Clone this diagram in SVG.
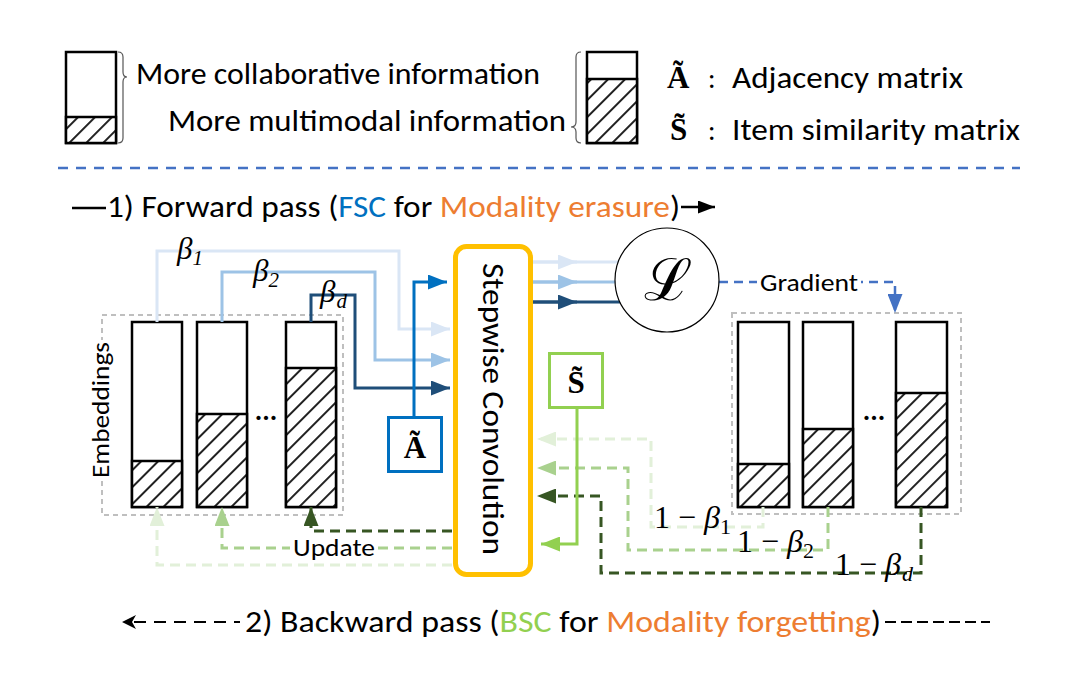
<svg xmlns="http://www.w3.org/2000/svg" width="1090" height="693" viewBox="0 0 1090 693">
<style>
.t{font-family:Calibri,Carlito,Lato,'Liberation Sans',sans-serif;fill:#000}
.m{font-family:'Liberation Serif','DejaVu Serif',serif;font-style:italic;fill:#000}
.mu{font-family:'Liberation Serif','DejaVu Serif',serif;fill:#000}
.mb{font-family:'Liberation Serif','DejaVu Serif',serif;font-weight:bold;fill:#000}
.bar{fill:#fff;stroke:#000;stroke-width:2.5}
.hat{fill:url(#hatch);stroke:#000;stroke-width:2.5}
.grp{fill:none;stroke:#BFBFBF;stroke-width:2;stroke-dasharray:5 4}
.c{fill:none;stroke-width:3}
.d{fill:none;stroke-width:3;stroke-dasharray:10 6}
</style>
<defs>
<pattern id="hatch" patternUnits="userSpaceOnUse" width="12" height="12" patternTransform="rotate(45)">
<rect width="12" height="12" fill="#fff"/>
<line x1="6" y1="0" x2="6" y2="12" stroke="#222" stroke-width="2"/>
</pattern>
<marker id="mLB" markerUnits="userSpaceOnUse" markerWidth="19" markerHeight="15" refX="19" refY="7.5" orient="auto"><path d="M0,0 L19,7.5 L0,15 z" fill="#DAE6F5"/></marker>
<marker id="mMB" markerUnits="userSpaceOnUse" markerWidth="19" markerHeight="15" refX="19" refY="7.5" orient="auto"><path d="M0,0 L19,7.5 L0,15 z" fill="#9DC3E6"/></marker>
<marker id="mDB" markerUnits="userSpaceOnUse" markerWidth="19" markerHeight="15" refX="19" refY="7.5" orient="auto"><path d="M0,0 L19,7.5 L0,15 z" fill="#1F4E79"/></marker>
<marker id="mA" markerUnits="userSpaceOnUse" markerWidth="19" markerHeight="15" refX="19" refY="7.5" orient="auto"><path d="M0,0 L19,7.5 L0,15 z" fill="#0070C0"/></marker>
<marker id="mLG" markerUnits="userSpaceOnUse" markerWidth="19" markerHeight="15" refX="19" refY="7.5" orient="auto"><path d="M0,0 L19,7.5 L0,15 z" fill="#E2F0D9"/></marker>
<marker id="mMG" markerUnits="userSpaceOnUse" markerWidth="19" markerHeight="15" refX="19" refY="7.5" orient="auto"><path d="M0,0 L19,7.5 L0,15 z" fill="#A9D18E"/></marker>
<marker id="mDG" markerUnits="userSpaceOnUse" markerWidth="19" markerHeight="15" refX="19" refY="7.5" orient="auto"><path d="M0,0 L19,7.5 L0,15 z" fill="#375623"/></marker>
<marker id="mSG" markerUnits="userSpaceOnUse" markerWidth="19" markerHeight="15" refX="19" refY="7.5" orient="auto"><path d="M0,0 L19,7.5 L0,15 z" fill="#92D050"/></marker>
<marker id="mGr" markerUnits="userSpaceOnUse" markerWidth="19" markerHeight="15" refX="19" refY="7.5" orient="auto"><path d="M0,0 L19,7.5 L0,15 z" fill="#4472C4"/></marker>
<marker id="mK" markerUnits="userSpaceOnUse" markerWidth="17" markerHeight="13" refX="17" refY="6.5" orient="auto"><path d="M0,0 L17,6.5 L0,13 z" fill="#000"/></marker>
</defs>
<rect width="1090" height="693" fill="#fff"/>

<!-- Legend -->
<g id="legend">
<rect x="66" y="52" width="50" height="91" class="bar"/>
<rect x="66" y="117" width="50" height="26" class="hat"/>
<path d="M118,52 Q123,52 123,57 L123,72 Q123,77 127,77 Q123,77 123,82 L123,138 Q123,143 118,143" fill="none" stroke="#555" stroke-width="1.2"/>
<text class="t" x="136" y="84" font-size="30" textLength="404" lengthAdjust="spacingAndGlyphs">More collaborative information</text>
<text class="t" x="168" y="131" font-size="30" textLength="398" lengthAdjust="spacingAndGlyphs">More multimodal information</text>
<path d="M581,52 Q576,52 576,57 L576,122 Q576,127 571,127 Q576,127 576,132 L576,138 Q576,143 581,143" fill="none" stroke="#555" stroke-width="1.2"/>
<rect x="587" y="52" width="50" height="91" class="bar"/>
<rect x="587" y="79" width="50" height="64" class="hat"/>
<text class="mb" x="667" y="88" font-size="31">Ã</text>
<text class="t" x="708" y="88" font-size="28">:</text>
<text class="t" x="732" y="88" font-size="30" textLength="231" lengthAdjust="spacingAndGlyphs">Adjacency matrix</text>
<text class="mb" x="670" y="140" font-size="31">S̃</text>
<text class="t" x="708" y="140" font-size="28">:</text>
<text class="t" x="732" y="140" font-size="30" textLength="288" lengthAdjust="spacingAndGlyphs">Item similarity matrix</text>
<line x1="58" y1="168" x2="1020" y2="168" stroke="#4472C4" stroke-width="2.5" stroke-dasharray="10 8"/>
</g>

<!-- Forward pass title -->
<g id="forward-title">
<line x1="72" y1="208" x2="106" y2="208" stroke="#000" stroke-width="2.5"/>
<text class="t" x="107" y="217" font-size="30" textLength="573" lengthAdjust="spacingAndGlyphs">1) Forward pass (<tspan fill="#0070C0">FSC</tspan> for <tspan fill="#ED7D31">Modality erasure</tspan>)</text>
<line x1="681" y1="207" x2="715" y2="207" stroke="#000" stroke-width="2.5" marker-end="url(#mK)"/>
</g>

<!-- Left embeddings -->
<g id="embeddings-left">
<rect x="102" y="315" width="241" height="200" class="grp"/>
<rect x="91" y="340" width="23" height="140" fill="#fff"/>
<text class="t" transform="translate(109,410) rotate(-90)" text-anchor="middle" font-size="25" textLength="136" lengthAdjust="spacingAndGlyphs">Embeddings</text>
<rect x="132" y="322" width="50" height="185" class="bar"/>
<rect x="132" y="461" width="50" height="46" class="hat"/>
<rect x="197" y="322" width="50" height="185" class="bar"/>
<rect x="197" y="414" width="50" height="93" class="hat"/>
<text class="t" x="266" y="420" font-size="28" text-anchor="middle" font-weight="bold">...</text>
<rect x="286" y="322" width="50" height="185" class="bar"/>
<rect x="286" y="368" width="50" height="139" class="hat"/>
</g>

<!-- Right embeddings -->
<g id="embeddings-right">
<rect x="732" y="313" width="229" height="201" class="grp"/>
<rect x="738" y="322" width="51" height="185" class="bar"/>
<rect x="738" y="464" width="51" height="43" class="hat"/>
<rect x="803" y="322" width="50" height="185" class="bar"/>
<rect x="803" y="429" width="50" height="78" class="hat"/>
<text class="t" x="874" y="420" font-size="28" text-anchor="middle" font-weight="bold">...</text>
<rect x="896" y="322" width="51" height="185" class="bar"/>
<rect x="896" y="393" width="51" height="114" class="hat"/>
</g>

<!-- Connectors -->
<g id="connectors">
<path class="c" stroke="#DAE6F5" d="M157,322 V251 H399 V329 H450" marker-end="url(#mLB)"/>
<path class="c" stroke="#9DC3E6" d="M222,322 V272 H375 V360 H450" marker-end="url(#mMB)"/>
<path class="c" stroke="#1F4E79" d="M311,322 V295 H355 V388 H450" marker-end="url(#mDB)"/>
<path class="c" stroke="#DAE6F5" d="M533,262 H640"/>
<path class="c" stroke="#DAE6F5" d="M533,262 H577" marker-end="url(#mLB)"/>
<path class="c" stroke="#9DC3E6" d="M533,282 H640"/>
<path class="c" stroke="#9DC3E6" d="M533,282 H577" marker-end="url(#mMB)"/>
<path class="c" stroke="#1F4E79" d="M533,302 H640"/>
<path class="c" stroke="#1F4E79" d="M533,302 H577" marker-end="url(#mDB)"/>
<path fill="none" stroke="#4472C4" stroke-width="2.5" stroke-dasharray="9 6" d="M719,282 H895 V313" marker-end="url(#mGr)"/>
<path class="d" stroke="#E2F0D9" d="M763,507 V527 H651 V439 H537" marker-end="url(#mLG)"/>
<path class="d" stroke="#A9D18E" d="M828,507 V550 H628 V468 H537" marker-end="url(#mMG)"/>
<path class="d" stroke="#375623" d="M921,507 V573 H601 V496 H537" marker-end="url(#mDG)"/>
<path class="c" stroke="#92D050" d="M577,408 V544 H541" marker-end="url(#mSG)"/>
<path class="d" stroke="#E2F0D9" d="M452,565 H157 V507" marker-end="url(#mLG)"/>
<path class="d" stroke="#A9D18E" d="M452,548 H222 V507" marker-end="url(#mMG)"/>
<path class="d" stroke="#375623" d="M452,531 H311 V507" marker-end="url(#mDG)"/>
<path class="c" stroke="#0070C0" d="M414,417 V282 H447" marker-end="url(#mA)"/>
</g>

<!-- labels on connectors -->
<g id="connector-labels">
<text class="m" x="177" y="259" font-size="31">β<tspan class="mu" font-size="21" dy="6">1</tspan></text>
<text class="m" x="253" y="281" font-size="31">β<tspan class="mu" font-size="21" dy="6">2</tspan></text>
<text class="m" x="320" y="302" font-size="31">β<tspan font-size="21" dx="1" dy="6">d</tspan></text>
<rect x="757" y="272" width="104" height="24" fill="#fff"/>
<text class="t" x="809" y="291" font-size="24" text-anchor="middle" textLength="98" lengthAdjust="spacingAndGlyphs">Gradient</text>
<rect x="290" y="537" width="88" height="23" fill="#fff"/>
<text class="t" x="334" y="556" font-size="25" text-anchor="middle" textLength="82" lengthAdjust="spacingAndGlyphs">Update</text>
<text class="mu" x="654" y="528" font-size="32">1 − <tspan class="m">β</tspan><tspan font-size="22" dy="6">1</tspan></text>
<text class="mu" x="737" y="552" font-size="32">1 − <tspan class="m">β</tspan><tspan font-size="22" dy="6">2</tspan></text>
<text class="mu" x="835" y="575" font-size="32">1 − <tspan class="m">β</tspan><tspan class="m" font-size="22" dx="1" dy="6">d</tspan></text>
</g>

<!-- Stepwise convolution -->
<g id="stepwise">
<rect x="455.5" y="246.5" width="75" height="328" rx="11" fill="#fff" stroke="#FFC000" stroke-width="5"/>
<text class="t" transform="translate(483,409) rotate(90)" text-anchor="middle" font-size="31" textLength="292" lengthAdjust="spacingAndGlyphs">Stepwise Convolution</text>
</g>

<!-- Loss -->
<g id="loss">
<circle cx="667" cy="280" r="52" fill="#fff" stroke="#000" stroke-width="1.2"/>
<text x="668" y="300" font-size="58" text-anchor="middle" font-family="'DejaVu Serif',serif">ℒ</text>
</g>

<!-- A tilde box -->
<g id="A-tilde">
<rect x="388.5" y="417.5" width="53" height="54" fill="#fff" stroke="#0070C0" stroke-width="3"/>
<text class="mb" x="415" y="458" font-size="31" text-anchor="middle">Ã</text>
</g>

<!-- S tilde box -->
<g id="S-tilde">
<rect x="549.5" y="353.5" width="53" height="54" fill="#fff" stroke="#92D050" stroke-width="3"/>
<text class="mb" x="576" y="393" font-size="31" text-anchor="middle">S̃</text>
</g>

<!-- Backward title -->
<g id="backward-title">
<path d="M122,622 L136,615 L132,622 L136,629 z" fill="#000"/>
<line x1="134" y1="622" x2="240" y2="622" stroke="#000" stroke-width="2" stroke-dasharray="12 8"/>
<text class="t" x="245" y="632" font-size="30" textLength="636" lengthAdjust="spacingAndGlyphs">2) Backward pass (<tspan fill="#92D050">BSC</tspan> for <tspan fill="#ED7D31">Modality forgetting</tspan>)</text>
<line x1="885" y1="622" x2="990" y2="622" stroke="#000" stroke-width="2" stroke-dasharray="11 5"/>
</g>
</svg>
